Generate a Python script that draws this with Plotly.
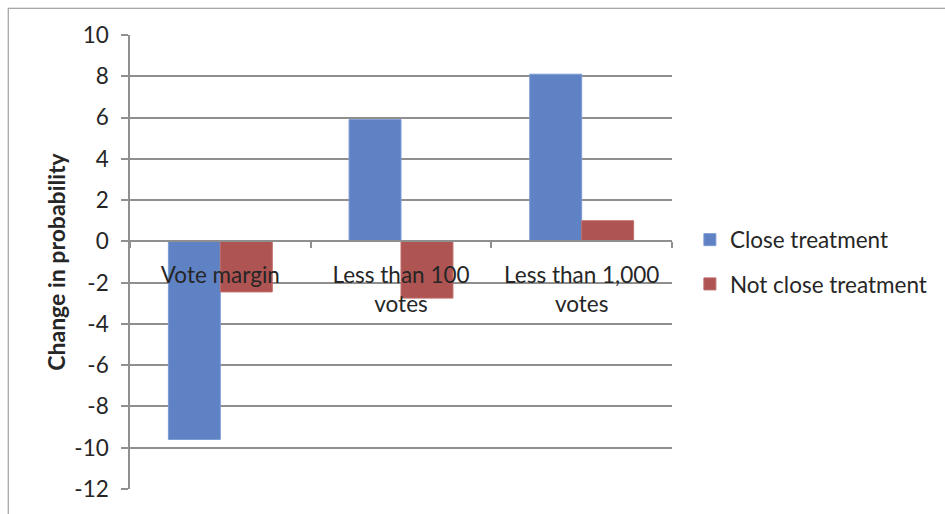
import plotly.graph_objects as go

# Chart data
categories = ["Vote margin", "Less than 100<br>votes", "Less than 1,000<br>votes"]
close_treatment = [-9.6, 5.9, 8.1]
not_close_treatment = [-2.45, -2.75, 1.0]
y_ticks = [10, 8, 6, 4, 2, 0, -2, -4, -6, -8, -10, -12]

y_min, y_max = -12, 10
grid_color = "#8f8f8f"
text_color = "#262626"
font_family = "Lato, 'Open Sans', sans-serif"
font_size = 22.5

fig = go.Figure()
fig.add_trace(go.Bar(
    x=categories, y=close_treatment, name="Close treatment",
    marker=dict(color="#5E82C3", line=dict(color="#7C9BD3", width=1)),
    legendgroup="a",
))
fig.add_trace(go.Bar(
    x=categories, y=not_close_treatment, name="Not close treatment",
    marker=dict(color="#AE5452", line=dict(color="#BE6C6A", width=1)),
    legendgroup="b",
))

fig.update_layout(
    width=945, height=514,
    margin=dict(l=130, r=272, t=34.5, b=21),
    paper_bgcolor="white", plot_bgcolor="white",
    font=dict(family=font_family, size=font_size, color=text_color),
    barmode="group", bargap=0.425, bargroupgap=0,
    showlegend=True,
    legend=dict(
        x=1.033, xanchor="left", y=0.5, yanchor="middle",
        font=dict(size=font_size, color=text_color),
        traceorder="grouped", tracegroupgap=12,
        bgcolor="rgba(0,0,0,0)",
    ),
    # Category axis sits on the zero line of the value axis
    xaxis=dict(
        type="category",
        anchor="free",
        position=(0 - y_min) / (y_max - y_min),
        showline=True, linecolor=grid_color, linewidth=1.5,
        ticks="outside", tickson="boundaries", ticklen=6,
        tickcolor=grid_color, tickwidth=1.5,
        showgrid=False, zeroline=False,
        ticklabelstandoff=14,
        tickfont=dict(size=font_size, color=text_color),
    ),
    yaxis=dict(
        range=[y_min, y_max],
        tickvals=y_ticks,
        ticktext=[str(v) for v in y_ticks],
        showline=True, linecolor=grid_color, linewidth=1.5,
        ticks="outside", ticklen=7, tickcolor=grid_color, tickwidth=1.5,
        showgrid=True, gridcolor=grid_color, gridwidth=1.5,
        zeroline=False,
        ticklabelstandoff=8,
        tickfont=dict(size=font_size, color=text_color),
        title=dict(
            text="<b>Change in probability</b>",
            font=dict(size=23, color=text_color),
            standoff=2,
        ),
    ),
    shapes=[
        # Outer chart frame
        dict(
            type="rect", xref="paper", yref="paper",
            x0=(8 - 130) / 543, x1=(960 - 130) / 543,
            y0=-0.2, y1=1 + (34.5 - 7.5) / 458.5,
            line=dict(color="#8c8c8c", width=1),
            fillcolor="rgba(0,0,0,0)", layer="below",
        ),
    ],
)

fig.write_html("out.html")
